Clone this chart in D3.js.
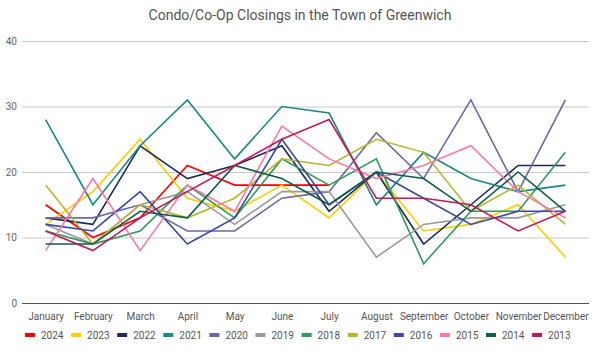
<!DOCTYPE html>
<html>
<head>
<meta charset="utf-8">
<script src="https://cdn.jsdelivr.net/npm/d3@7"></script>
<style>
  body { margin: 0; background: #fff; }
  svg { display: block; font-family: Roboto, "Noto Sans", sans-serif; }
</style>
</head>
<body>
<svg id="chart" width="600" height="353"></svg>
<script>
// months along the x axis
var months = ["January", "February", "March", "April", "May", "June",
  "July", "August", "September", "October", "November", "December"];

// closings per month, one array per year (2024 stops at July)
var y2024 = [15, 10, 13, 21, 18, 18, 18];
var y2023 = [12, 17, 25, 16, 14, 18, 13, 20, 11, 12, 15, 7];
var y2022 = [13, 12, 24, 19, 21, 24, 14, 20, 9, 15, 21, 21];
var y2021 = [28, 15, 24, 31, 22, 30, 29, 15, 23, 19, 17, 18];
var y2020 = [13, 13, 15, 11, 11, 16, 17, 26, 19, 31, 17, 31];
var y2019 = [12, 9, 15, 17, 12, 17, 17, 7, 12, 13, 13, 15];
var y2018 = [11, 9, 11, 18, 13, 22, 18, 22, 6, 14, 14, 23];
var y2017 = [18, 9, 15, 13, 16, 22, 21, 25, 23, 14, 18, 12];
var y2016 = [12, 11, 17, 9, 13, 25, 15, 20, 16, 12, 14, 14];
var y2015 = [8, 19, 8, 18, 14, 27, 22, 19, 21, 24, 17, 13];
var y2014 = [9, 9, 14, 13, 21, 19, 15, 20, 19, 14, 20, 14];
var y2013 = [11, 8, 13, 17, 21, 25, 28, 16, 16, 15, 11, 14];

var years = ["2024", "2023", "2022", "2021", "2020", "2019", "2018", "2017", "2016", "2015", "2014", "2013"];
var yTicks = [0, 10, 20, 30, 40];

var series = [
  {name: "2024", values: y2024, color: "#ff0000"},
  {name: "2023", values: y2023, color: "#ffcc00"},
  {name: "2022", values: y2022, color: "#1b2a5a"},
  {name: "2021", values: y2021, color: "#178a85"},
  {name: "2020", values: y2020, color: "#6b69a5"},
  {name: "2019", values: y2019, color: "#9a9a9a"},
  {name: "2018", values: y2018, color: "#2e9a5c"},
  {name: "2017", values: y2017, color: "#b8b72c"},
  {name: "2016", values: y2016, color: "#3a48a8"},
  {name: "2015", values: y2015, color: "#ff77a8"},
  {name: "2014", values: y2014, color: "#0e5c4c"},
  {name: "2013", values: y2013, color: "#c2185b"}
];

var svg = d3.select("#chart"),
  margin = {top: 41, right: 11, bottom: 50, left: 22},
  width = 600, height = 353;

var x = d3.scalePoint()
  .domain(months)
  .range([margin.left, width - margin.right])
  .padding(0.5);

var y = d3.scaleLinear()
  .domain([0, 40])
  .range([height - margin.bottom, margin.top]);

// title
svg.append("text")
  .attr("x", width / 2)
  .attr("y", 20)
  .attr("text-anchor", "middle")
  .style("font-size", "14px")
  .style("fill", "#555")
  .text("Condo/Co-Op Closings in the Town of Greenwich");

// gridlines + y labels
var yAxis = svg.append("g")
  .attr("transform", "translate(" + margin.left + ",0)")
  .call(d3.axisLeft(y).tickValues(yTicks).tickSize(-(width - margin.left - margin.right)).tickPadding(5));
yAxis.select(".domain").remove();
yAxis.selectAll(".tick line")
  .attr("stroke", function(d) { return d === 0 ? "#555" : "#c8c8c8"; })
  .attr("stroke-width", function(d) { return d === 0 ? 1.2 : 1; });
yAxis.selectAll(".tick text")
  .style("font-size", "10px")
  .style("fill", "#666")
  .style("font-family", "Roboto, sans-serif");

// month labels
var xAxis = svg.append("g")
  .attr("transform", "translate(0," + (height - margin.bottom) + ")")
  .call(d3.axisBottom(x).tickSize(0).tickPadding(10));
xAxis.select(".domain").remove();
xAxis.selectAll(".tick text")
  .style("font-size", "10px")
  .style("fill", "#555")
  .style("font-family", "Roboto, sans-serif");

// the lines, 2013 ends up on top
var line = d3.line()
  .x(function(d, i) { return x(months[i]); })
  .y(function(d) { return y(d); });

svg.append("g").selectAll("path")
  .data(series)
  .enter().append("path")
    .attr("d", function(d) { return line(d.values); })
    .style("fill", "none")
    .style("stroke", function(d) { return d.color; })
    .style("stroke-width", "1.6px")
    .style("stroke-linejoin", "miter");

// legend along the bottom
var legend = svg.append("g")
  .attr("transform", "translate(25," + 335 + ")");

var item = legend.selectAll("g")
  .data(series)
  .enter().append("g")
    .attr("transform", function(d, i) { return "translate(" + (i * 46.1) + ",0)"; });

item.append("rect")
  .attr("x", 0).attr("y", -2)
  .attr("width", 10).attr("height", 4)
  .style("fill", function(d) { return d.color; });

item.append("text")
  .attr("x", 16)
  .attr("dy", "0.35em")
  .style("font-size", "10px")
  .style("fill", "#555")
  .text(function(d) { return d.name; });
</script>
</body>
</html>
